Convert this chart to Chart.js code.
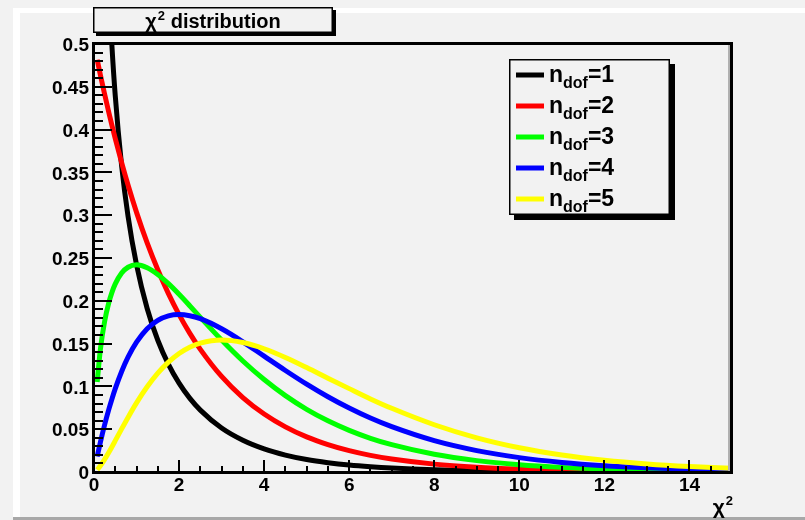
<!DOCTYPE html>
<html>
<head>
<meta charset="utf-8">
<script src="https://cdn.jsdelivr.net/npm/chart.js@4"></script>
<style>
  html, body { margin: 0; padding: 0; background: #f2f2f2; }
  canvas { display: block; }
</style>
</head>
<body>
<canvas id="chi2Chart" width="805" height="520"></canvas>
<script>
// --- Data ---
const xValues = [0.075, 0.15, 0.25, 0.35, 0.42, 0.5, 0.65, 0.8, 1, 1.25, 1.5, 1.75, 2, 2.25, 2.5, 3, 3.5, 4, 4.5, 5, 5.5, 6, 6.5, 7, 8, 9, 10, 11, 12, 13, 14, 15];
const dof1 = [1.4031, 0.9556, 0.7041, 0.5661, 0.4990, 0.4394, 0.3575, 0.2990, 0.2420, 0.1910, 0.1539, 0.1257, 0.1038, 0.0863, 0.0723, 0.0514, 0.0371, 0.0270, 0.0198, 0.0146, 0.0109, 0.0081, 0.0061, 0.0046, 0.0026, 0.0015, 0.0009, 0.0005, 0.0003, 0.0002, 0.0001, 0.0001];
const dof2 = [0.4816, 0.4639, 0.4413, 0.4197, 0.4053, 0.3894, 0.3613, 0.3352, 0.3033, 0.2676, 0.2362, 0.2084, 0.1839, 0.1623, 0.1433, 0.1116, 0.0869, 0.0677, 0.0527, 0.0410, 0.0320, 0.0249, 0.0194, 0.0151, 0.0092, 0.0056, 0.0034, 0.0020, 0.0012, 0.0008, 0.0005, 0.0003];
const dof3 = [0.1052, 0.1433, 0.1760, 0.1981, 0.2096, 0.2197, 0.2324, 0.2392, 0.2420, 0.2387, 0.2308, 0.2200, 0.2076, 0.1943, 0.1807, 0.1542, 0.1297, 0.1080, 0.0892, 0.0732, 0.0598, 0.0487, 0.0394, 0.0319, 0.0207, 0.0133, 0.0085, 0.0054, 0.0034, 0.0022, 0.0014, 0.0009];
const dof4 = [0.0181, 0.0348, 0.0552, 0.0735, 0.0851, 0.0974, 0.1174, 0.1341, 0.1516, 0.1673, 0.1771, 0.1824, 0.1839, 0.1826, 0.1791, 0.1673, 0.1521, 0.1353, 0.1186, 0.1026, 0.0879, 0.0747, 0.0630, 0.0529, 0.0366, 0.0250, 0.0168, 0.0112, 0.0074, 0.0049, 0.0032, 0.0021];
const dof5 = [0.0026, 0.0072, 0.0147, 0.0231, 0.0293, 0.0366, 0.0504, 0.0638, 0.0807, 0.0995, 0.1154, 0.1283, 0.1384, 0.1457, 0.1506, 0.1542, 0.1513, 0.1440, 0.1338, 0.1220, 0.1096, 0.0974, 0.0854, 0.0744, 0.0552, 0.0399, 0.0283, 0.0198, 0.0137, 0.0094, 0.0064, 0.0043];

const seriesLabels = ['1', '2', '3', '4', '5'];
const seriesColors = ['#000000', '#ff0000', '#00ff00', '#0000ff', '#ffff00'];

const xTickValues = [0, 2, 4, 6, 8, 10, 12, 14];
const yTickValues = [0, 0.05, 0.1, 0.15, 0.2, 0.25, 0.3, 0.35, 0.4, 0.45, 0.5];
const yTickLabels = ['0', '0.05', '0.1', '0.15', '0.2', '0.25', '0.3', '0.35', '0.4', '0.45', '0.5'];

const titleSymbol = 'χ';
const titleRest = ' distribution';
const xAxisSymbol = 'χ';

const FONT = '"Liberation Sans", Arial, Helvetica, sans-serif';
const BG = '#f2f2f2';

// --- Background: ROOT canvas look ---
const backgroundPlugin = {
    id: 'rootBackground',
    beforeDraw(chart) {
        const { ctx, width, height } = chart;
        ctx.save();
        ctx.fillStyle = BG;
        ctx.fillRect(0, 0, width, height);
        ctx.fillStyle = '#ffffff';
        ctx.fillRect(13, 8, width - 13, 5);
        ctx.fillRect(13, 8, 7, height - 8);
        ctx.fillStyle = BG;
        ctx.fillRect(20, 13, width - 20, height - 13);
        ctx.fillStyle = '#a8a8a8';
        ctx.fillRect(13, 517, width - 13, 3);
        ctx.restore();
    }
};

// text with a small raised "2" (χ²)
function drawSquared(ctx, x, y, size, supSize) {
    ctx.font = 'bold ' + size + 'px ' + FONT;
    ctx.fillText(xAxisSymbol, x, y);
    const w = ctx.measureText(xAxisSymbol).width;
    ctx.font = 'bold ' + supSize + 'px ' + FONT;
    ctx.fillText('2', x + w + 1, y - size * 0.42);
    return w + 1 + ctx.measureText('2').width;
}

// --- Frame, ticks, labels, title, legend ---
const decorPlugin = {
    id: 'rootDecor',
    afterDatasetsDraw(chart) {
        const { ctx, chartArea: a, scales } = chart;
        const xs = scales.x, ys = scales.y;
        ctx.save();

        // frame
        ctx.fillStyle = '#b0b0b0';
        ctx.fillRect(a.right - 4, a.top, 2, a.bottom - a.top);
        ctx.fillStyle = '#000';
        ctx.fillRect(a.left - 1, a.top - 2, a.right - a.left + 2, 3);
        ctx.fillRect(a.right - 2, a.top - 2, 3, a.bottom - a.top + 3);
        ctx.fillRect(a.left - 2, a.top - 2, 3, a.bottom - a.top + 3);
        ctx.fillRect(a.left - 2, a.bottom - 1, a.right - a.left + 3, 3);

        // ticks
        ctx.strokeStyle = '#000';
        ctx.lineWidth = 2;
        ctx.beginPath();
        for (let v = 0; v <= 15.001; v += 0.5) {
            const px = Math.round(xs.getPixelForValue(v));
            const major = Math.abs(v / 2 - Math.round(v / 2)) < 1e-6;
            ctx.moveTo(px, a.bottom);
            ctx.lineTo(px, a.bottom - (major ? 12 : 6));
        }
        for (let i = 0; i <= 50; i++) {
            const v = i / 100;
            const py = Math.round(ys.getPixelForValue(v));
            const major = i % 5 === 0;
            ctx.moveTo(a.left, py);
            ctx.lineTo(a.left + (major ? 18 : 9), py);
        }
        ctx.stroke();

        // tick labels
        ctx.fillStyle = '#000';
        ctx.font = 'bold 19px ' + FONT;
        ctx.textAlign = 'right';
        ctx.textBaseline = 'middle';
        yTickValues.forEach((v, i) => {
            ctx.fillText(yTickLabels[i], a.left - 5, ys.getPixelForValue(v) + 2);
        });
        ctx.textAlign = 'center';
        ctx.textBaseline = 'top';
        xTickValues.forEach(v => {
            ctx.fillText(String(v), xs.getPixelForValue(v), a.bottom + 4);
        });

        // axis title (χ²), right aligned with the frame
        ctx.textAlign = 'left';
        ctx.textBaseline = 'alphabetic';
        ctx.font = 'bold 21px ' + FONT;
        const wChi = ctx.measureText(xAxisSymbol).width;
        ctx.font = 'bold 13px ' + FONT;
        const wTwo = ctx.measureText('2').width;
        drawSquared(ctx, a.right + 1 - (wChi + 1 + wTwo), 514, 21, 13);

        // title box
        drawBox(ctx, 93, 7, 240, 26, 3);
        ctx.fillStyle = '#000';
        ctx.textBaseline = 'alphabetic';
        ctx.font = 'bold 20px ' + FONT;
        const wRest = ctx.measureText(titleRest).width;
        const wSym = ctx.measureText(titleSymbol).width;
        ctx.font = 'bold 13px ' + FONT;
        const wSup = ctx.measureText('2').width;
        const total = wSym + 1 + wSup + wRest;
        let tx = 213 - total / 2;
        const tw = drawSquared(ctx, tx, 28, 20, 13);
        ctx.font = 'bold 20px ' + FONT;
        ctx.fillText(titleRest, tx + tw, 28);

        // legend box
        drawBox(ctx, 509, 59, 161, 156, 5);
        const rowY = [75, 106, 137, 168, 199];
        seriesLabels.forEach((lab, i) => {
            const y = rowY[i];
            ctx.fillStyle = seriesColors[i];
            ctx.fillRect(516, y - 2.5, 28, 5);
            ctx.fillStyle = '#000';
            ctx.textAlign = 'left';
            ctx.textBaseline = 'alphabetic';
            let x = 549;
            ctx.font = 'bold 23px ' + FONT;
            ctx.fillText('n', x, y + 7);
            x += ctx.measureText('n').width;
            ctx.font = 'bold 16px ' + FONT;
            ctx.fillText('dof', x, y + 13);
            x += ctx.measureText('dof').width;
            ctx.font = 'bold 23px ' + FONT;
            ctx.fillText('=' + lab, x, y + 7);
        });

        ctx.restore();
    }
};

function drawBox(ctx, x, y, w, h, shadow) {
    ctx.fillStyle = '#000';
    ctx.fillRect(x + shadow, y + shadow, w, h);
    ctx.fillStyle = BG;
    ctx.fillRect(x, y, w, h);
    ctx.strokeStyle = '#000';
    ctx.lineWidth = 1.5;
    ctx.strokeRect(x + 0.75, y + 0.75, w - 1.5, h - 1.5);
}

const allSeries = [dof1, dof2, dof3, dof4, dof5];

new Chart(document.getElementById('chi2Chart'), {
    type: 'line',
    data: {
        datasets: allSeries.map((vals, i) => ({
            label: 'n_dof=' + seriesLabels[i],
            data: xValues.map((x, j) => ({ x: x, y: vals[j] })),
            borderColor: seriesColors[i],
            borderWidth: 5,
            pointRadius: 0,
            fill: false,
            cubicInterpolationMode: 'monotone',
            clip: 0,
            order: allSeries.length - i
        }))
    },
    options: {
        responsive: false,
        animation: false,
        events: [],
        layout: { padding: { left: 94, top: 44, right: 73, bottom: 48 } },
        plugins: { legend: { display: false }, title: { display: false }, tooltip: { enabled: false } },
        scales: {
            x: { type: 'linear', min: 0, max: 15, display: false },
            y: { type: 'linear', min: 0, max: 0.5, display: false }
        }
    },
    plugins: [backgroundPlugin, decorPlugin]
});
</script>
</body>
</html>
